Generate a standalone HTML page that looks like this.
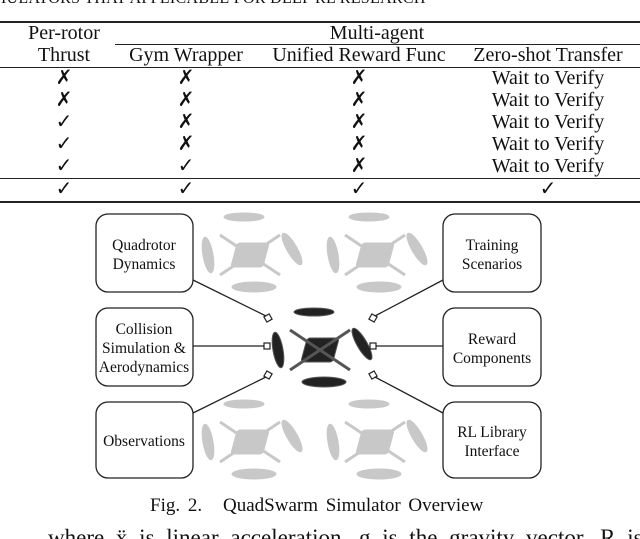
<!DOCTYPE html>
<html><head><style>
html,body{margin:0;padding:0;background:#fff;}
body{width:640px;height:539px;position:relative;overflow:hidden;font-family:"Liberation Serif",serif;color:#111;}
.t{position:absolute;font-size:20px;white-space:nowrap;transform:translate(-50%,-50%);line-height:1;}
.r{position:absolute;left:0;width:640px;background:#222;}
</style></head><body>
<div style="position:absolute;left:-8px;top:-10px;font-size:16px;letter-spacing:0.3px;white-space:nowrap">MULATORS THAT APPLICABLE FOR DEEP RL RESEARCH</div>
<div class="r" style="top:21px;height:1.5px"></div>
<div class="r" style="top:44px;height:1px;left:115px;width:525px"></div>
<div class="r" style="top:67px;height:1px"></div>
<div class="r" style="top:178px;height:1px"></div>
<div class="r" style="top:201px;height:1.5px"></div>
<div class="t" style="left:64px;top:33px">Per-rotor</div>
<div class="t" style="left:377px;top:33px">Multi-agent</div>
<div class="t" style="left:64px;top:55px">Thrust</div>
<div class="t" style="left:186px;top:55px">Gym Wrapper</div>
<div class="t" style="left:359px;top:55px">Unified Reward Func</div>
<div class="t" style="left:548px;top:55px">Zero-shot Transfer</div>
<div style="position:absolute;left:0;top:0">
<div class="t" style="left:64px;top:78px">✗</div><div class="t" style="left:186px;top:78px">✗</div><div class="t" style="left:359px;top:78px">✗</div><div class="t" style="left:548px;top:78px">Wait to Verify</div>
<div class="t" style="left:64px;top:100px">✗</div><div class="t" style="left:186px;top:100px">✗</div><div class="t" style="left:359px;top:100px">✗</div><div class="t" style="left:548px;top:100px">Wait to Verify</div>
<div class="t" style="left:64px;top:122px">✓</div><div class="t" style="left:186px;top:122px">✗</div><div class="t" style="left:359px;top:122px">✗</div><div class="t" style="left:548px;top:122px">Wait to Verify</div>
<div class="t" style="left:64px;top:144px">✓</div><div class="t" style="left:186px;top:144px">✗</div><div class="t" style="left:359px;top:144px">✗</div><div class="t" style="left:548px;top:144px">Wait to Verify</div>
<div class="t" style="left:64px;top:166px">✓</div><div class="t" style="left:186px;top:166px">✓</div><div class="t" style="left:359px;top:166px">✗</div><div class="t" style="left:548px;top:166px">Wait to Verify</div>
<div class="t" style="left:64px;top:189px">✓</div><div class="t" style="left:186px;top:189px">✓</div><div class="t" style="left:359px;top:189px">✓</div><div class="t" style="left:548px;top:189px">✓</div>
</div>
<svg width="640" height="539" style="position:absolute;left:0;top:0" font-family="Liberation Serif, serif" font-size="15.5" fill="#111">
<defs>
<g id="dr">
<rect x="-16" y="-12" width="32" height="24" rx="3" transform="skewX(-15)"/>
<line x1="-30" y1="-20" x2="30" y2="20" stroke-width="3"/>
<line x1="-30" y1="20" x2="30" y2="-20" stroke-width="3"/>
<ellipse cx="-6" cy="-38" rx="20" ry="4"/>
<ellipse cx="4" cy="32" rx="22" ry="5"/>
<ellipse cx="-42" cy="0" rx="5" ry="18" transform="rotate(-10 -42 0)"/>
<ellipse cx="42" cy="-6" rx="5" ry="18" transform="rotate(-30 42 -6)"/>
</g>
</defs>
<g fill="#bbb" stroke="#bbb" opacity="0.8">
<use href="#dr" x="250" y="255"/><use href="#dr" x="375" y="255"/>
<use href="#dr" x="250" y="442"/><use href="#dr" x="375" y="442"/>
</g>
<g fill="#222" stroke="#555"><use href="#dr" x="320" y="350"/></g>
<g fill="none" stroke="#222" stroke-width="1.3">
<rect x="96" y="214" width="97" height="78" rx="12"/>
<rect x="96" y="308" width="97" height="78" rx="12"/>
<rect x="96" y="402" width="97" height="76" rx="12"/>
<rect x="443" y="214" width="98" height="78" rx="12"/>
<rect x="443" y="308" width="98" height="78" rx="12"/>
<rect x="443" y="402" width="98" height="76" rx="12"/>
<line x1="193" y1="280" x2="266" y2="316"/>
<line x1="193" y1="346" x2="265" y2="346"/>
<line x1="193" y1="413" x2="266" y2="377"/>
<line x1="443" y1="280" x2="375" y2="316"/>
<line x1="443" y1="346" x2="376" y2="346"/>
<line x1="443" y1="413" x2="375" y2="377"/>
</g>
<g fill="#fff" stroke="#222" stroke-width="1.2">
<rect x="265" y="315" width="6" height="6" transform="rotate(-30 268 318)"/>
<rect x="264" y="343" width="6" height="6"/>
<rect x="265" y="372" width="6" height="6" transform="rotate(30 268 375)"/>
<rect x="370" y="315" width="6" height="6" transform="rotate(30 373 318)"/>
<rect x="370" y="343" width="6" height="6"/>
<rect x="370" y="372" width="6" height="6" transform="rotate(-30 373 375)"/>
</g>
<g text-anchor="middle">
<text x="144" y="250">Quadrotor</text><text x="144" y="269">Dynamics</text>
<text x="144" y="334">Collision</text><text x="144" y="353">Simulation &amp;</text><text x="144" y="372">Aerodynamics</text>
<text x="144" y="446">Observations</text>
<text x="492" y="250">Training</text><text x="492" y="269">Scenarios</text>
<text x="492" y="344">Reward</text><text x="492" y="363">Components</text>
<text x="492" y="437">RL Library</text><text x="492" y="456">Interface</text>
</g>
<text x="150" y="511" font-size="19" word-spacing="3">Fig. 2.</text>
<text x="223" y="511" font-size="19" word-spacing="3">QuadSwarm Simulator Overview</text>
<text x="48" y="545" font-size="23" word-spacing="6">where ẍ is linear acceleration, g is the gravity vector, R is</text>
</svg>
</body></html>
